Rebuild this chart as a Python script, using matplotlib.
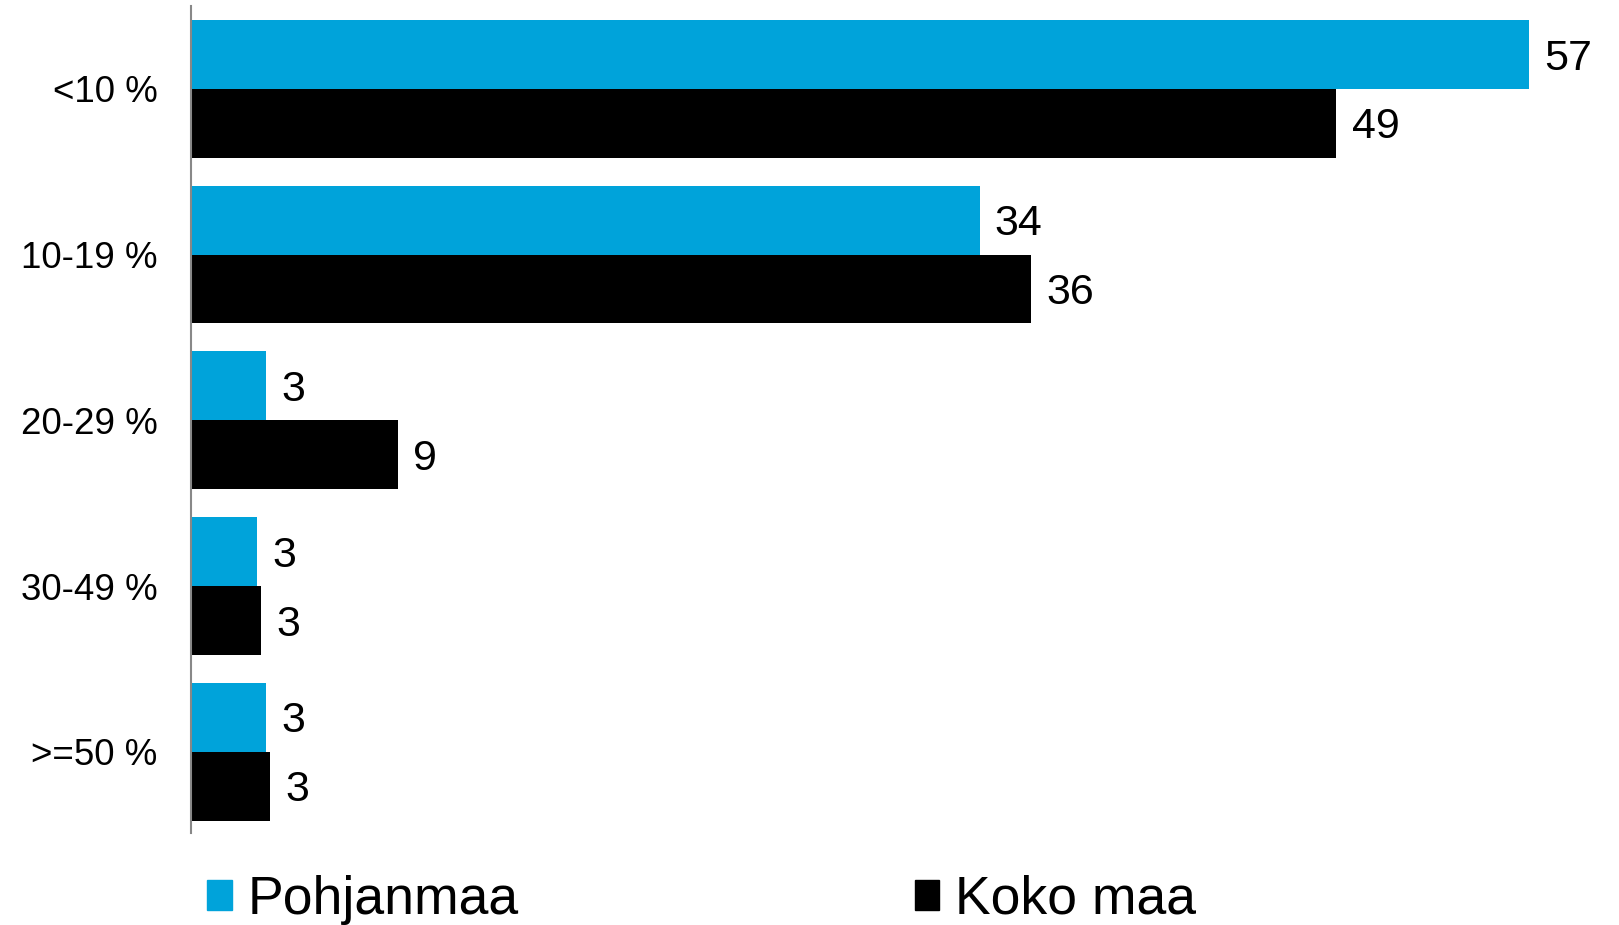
import numpy as np
import matplotlib
matplotlib.use('Agg')
import matplotlib.pyplot as plt
from matplotlib.patches import Rectangle

plt.rcParams['font.family'] = ['Liberation Sans', 'DejaVu Sans']

categories = ['<10 %', '10-19 %', '20-29 %', '30-49 %', '>=50 %']
# bar lengths (labels shown rounded)
pohjanmaa = [57.0, 33.6, 3.2, 2.8, 3.2]
koko_maa = [48.8, 35.8, 8.8, 3.0, 3.35]
series_names = ['Pohjanmaa', 'Koko maa']

blue = '#00A3DA'
black = '#000000'

fig = plt.figure(figsize=(16.19, 9.25), dpi=100)
ax = fig.add_axes([0.118, 0.0995, 0.8697, 0.894])

y = np.arange(len(categories))
h = 0.4155
b1 = ax.barh(y - h / 2, pohjanmaa, height=h, color=blue)
b2 = ax.barh(y + h / 2, koko_maa, height=h, color=black)

for bars, vals in [(b1, pohjanmaa), (b2, koko_maa)]:
    for bar, v in zip(bars, vals):
        ax.annotate(f'{v:.0f}', xy=(bar.get_width(), bar.get_y() + bar.get_height() / 2),
                    xytext=(11, -3), textcoords='offset points',
                    ha='left', va='center', fontsize=31)

ax.set_xlim(0, 60)
ax.set_ylim(4.49, -0.5)
ax.set_yticks(y)
ax.set_yticklabels(categories, fontsize=26.5)
ax.tick_params(axis='y', length=0, pad=24)
ax.set_xticks([])
for s in ['top', 'right', 'bottom']:
    ax.spines[s].set_visible(False)
ax.spines['left'].set_color('#888888')
ax.spines['left'].set_linewidth(1.5)

handles = [Rectangle((0, 0), 1, 1, color=blue), Rectangle((0, 0), 1, 1, color=black)]
fig.legend(handles, series_names, loc='lower left', bbox_to_anchor=(0.128, 0.0),
           ncol=2, frameon=False, fontsize=38.5, handlelength=0.46, handleheight=0.46,
           handletextpad=0.3, columnspacing=7.4, borderpad=0, borderaxespad=0)

fig.savefig('out.png', dpi=100)
